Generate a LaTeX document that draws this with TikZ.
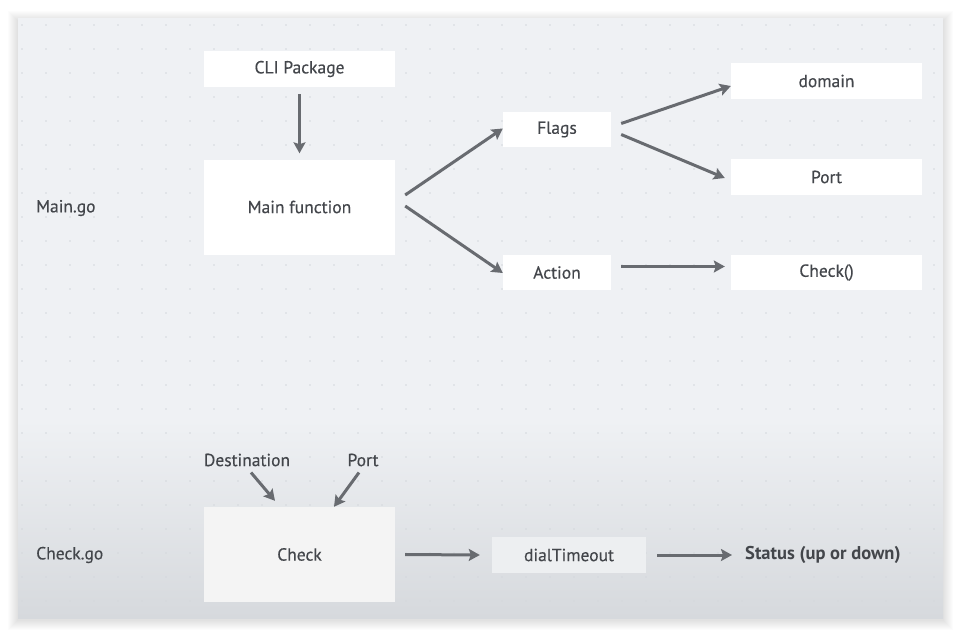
\documentclass[tikz,border=0pt]{standalone}
\usepackage{fontspec}
\setmainfont{PT Sans}
\newfontfamily\medfont{PT Sans}[FakeBold=0.35]
\usetikzlibrary{arrows.meta,calc}
\definecolor{cardbg}{HTML}{EFF1F4}
\definecolor{cardbot}{HTML}{D6D9DD}
\definecolor{dotc}{HTML}{D4D7DC}
\definecolor{txt}{HTML}{43464B}
\definecolor{arrc}{HTML}{686B70}
\definecolor{checkbg}{HTML}{F4F4F4}
\definecolor{dialbg}{HTML}{EDEFF1}
\tikzset{
  box/.style={fill=white, draw=none, text=txt, inner sep=0pt, font=\medfont\fontsize{17.5}{19}\selectfont},
  lbl/.style={text=txt, inner sep=0pt, font=\medfont\fontsize{17.5}{19}\selectfont},
  arr/.style={draw=arrc, line width=3pt, -{Stealth[length=11pt,width=12pt,inset=2pt]}},
}
\begin{document}
\begin{tikzpicture}[x=1pt,y=-1pt]
\useasboundingbox (0,0) rectangle (961,637);
\fill[white] (0,0) rectangle (961,637);
% shadow
\foreach \i in {1,...,10}{
  \fill[black, opacity=0.012] ($(18,19)+(-\i,-\i+2)$) rectangle ($(943,618)+(\i,\i+2)$);
}
% card
\fill[cardbg] (18,18) rectangle (943,618);
\shade[top color=cardbg, bottom color=cardbot] (18,420) rectangle (943,618);
% dot grid
\foreach \x in {22,46,...,934}{
  \foreach \y in {25,49,...,613}{
    \fill[dotc] (\x,\y) circle (0.9pt);
  }
}
% nodes
\node[box, minimum width=191pt, minimum height=36pt] (cli) at (299.5,69) {CLI Package};
\node[box, minimum width=191pt, minimum height=95pt] (main) at (299.5,207) {Main function};
\node[lbl, anchor=west] (maingo) at (36,208) {Main.go};
\node[box, minimum width=108pt, minimum height=35pt] (flags) at (557,129.5) {Flags};
\node[box, minimum width=108pt, minimum height=35pt] (action) at (557,272.5) {Action};
\node[box, minimum width=191pt, minimum height=36pt] (domain) at (826.5,81) {domain};
\node[box, minimum width=191pt, minimum height=36pt] (port) at (826.5,177) {Port};
\node[box, minimum width=191pt, minimum height=35pt] (checkf) at (826.5,272.5) {Check()};

\node[box, fill=checkbg, minimum width=191pt, minimum height=95pt] (check) at (299.5,554.5) {Check};
\node[lbl, anchor=west] (checkgo) at (36,555) {Check.go};
\node[lbl] (dest) at (247,460) {Destination};
\node[lbl] (portb) at (363,460) {Port};
\node[box, fill=dialbg, minimum width=154pt, minimum height=36pt] (dial) at (569,555) {dialTimeout};
\node[lbl, anchor=west, font=\fontsize{18.5}{20}\selectfont\bfseries] (status) at (745,555) {Status (up or down)};

% connectors
\draw[arr] ($(cli.south)+(0,7)$) -- ($(main.north)+(0,-6)$);
\draw[arr] ($(main.east)+(10,-12)$) -- ($(flags.west)+(0,-1)$);
\draw[arr] ($(main.east)+(10,-1)$) -- ($(action.west)+(0,0.5)$);
\draw[arr] ($(flags.east)+(10,-6)$) -- ($(domain.west)+(0,5)$);
\draw[arr] ($(flags.east)+(10,5)$) -- ($(port.west)+(-6,1)$);
\draw[arr] ($(action.east)+(10,-6)$) -- ($(checkf.west)+(-6,-6)$);
\draw[arr] ($(dest.south)+(4,6)$) -- ($(check.north)+(-24.5,-6)$);
\draw[arr] ($(portb.south)+(-4,6)$) -- ($(check.north)+(34.5,0)$);
\draw[arr] ($(check.east)+(10,0)$) -- ($(dial.west)+(-12,0)$);
\draw[arr] ($(dial.east)+(11,0)$) -- ($(status.west)+(-13,0)$);
\end{tikzpicture}
\end{document}
